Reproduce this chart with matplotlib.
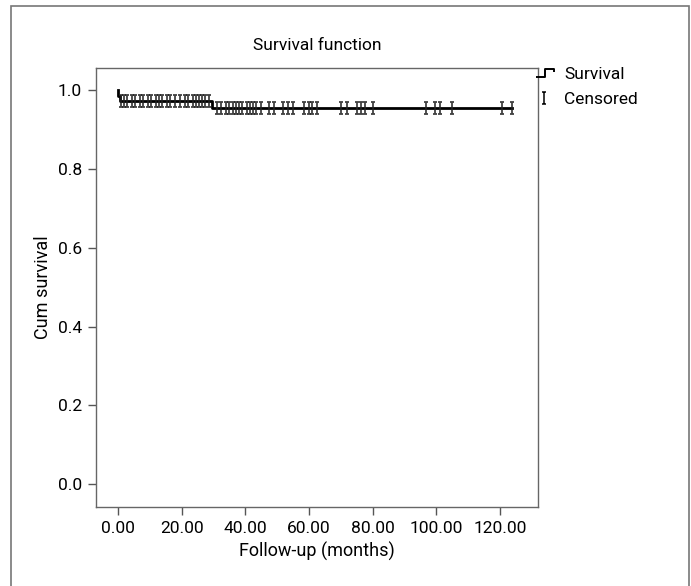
import matplotlib.pyplot as plt
from matplotlib.path import Path
from matplotlib.lines import Line2D
from matplotlib.patches import Rectangle

plt.rcParams['font.family'] = ['Roboto', 'DejaVu Sans']

# Kaplan-Meier steps (time, cumulative survival after the event)
event_times = [0.0, 0.1, 0.8, 29.5]
event_surv = [1.0, 0.986, 0.972, 0.955]
end_time = 123.8

# censored cases
censor_lvl1 = [1.0, 2.0, 3.0, 4.5, 5.5, 7.0, 8.0, 9.5, 10.5, 12.0, 13.0, 14.0,
               15.5, 16.5, 18.0, 19.5, 21.0, 22.0, 23.5, 24.5, 25.5, 26.5, 27.5, 28.5]
censor_lvl2 = [31, 32.5, 34, 35, 36, 37, 38, 39, 40.5, 41.5, 42.5, 43.5, 45, 47.5,
               49, 52, 53.5, 55, 58.5, 60, 61, 62.5, 70, 72, 75, 76.5, 77.5, 80,
               96.9, 99.5, 101.3, 104.9, 120.6, 123.8]

xticks = [0, 20, 40, 60, 80, 100, 120]
yticks = [0.0, 0.2, 0.4, 0.6, 0.8, 1.0]

# "I" shaped censor marker
cens_marker = Path([(-0.35, -1), (0.35, -1), (0, -1), (0, 1), (-0.35, 1), (0.35, 1)],
                   [Path.MOVETO, Path.LINETO, Path.MOVETO, Path.LINETO, Path.MOVETO, Path.LINETO])
# step symbol for legend
step_marker = Path([(-0.75, -0.35), (0.1, -0.35), (0.1, 0.35), (1.0, 0.35), (1.0, 0.05)],
                   [Path.MOVETO, Path.LINETO, Path.LINETO, Path.LINETO, Path.LINETO])

fig = plt.figure(figsize=(6.91, 5.86), dpi=100)
ax = fig.add_axes([0.1389, 0.1348, 0.6397, 0.7497])

xs = event_times + [end_time]
ys = event_surv + [event_surv[-1]]
ax.step(xs, ys, where='post', color='black', lw=2)

ax.plot(censor_lvl1, [event_surv[2]] * len(censor_lvl1), linestyle='None',
        marker=cens_marker, markersize=9, color='#222222', mew=1.3, alpha=0.85)
ax.plot(censor_lvl2, [event_surv[3]] * len(censor_lvl2), linestyle='None',
        marker=cens_marker, markersize=9, color='#222222', mew=1.3, alpha=0.85)

ax.set_xlim(-6.9, 132)
ax.set_ylim(-0.058, 1.057)
ax.set_xticks(xticks)
ax.set_xticklabels(['%.2f' % v for v in xticks])
ax.set_yticks(yticks)
ax.set_yticklabels(['%.1f' % v for v in yticks])
ax.tick_params(direction='out', length=6, width=1, color='#555555', labelsize=12.5, pad=4)
for s in ax.spines.values():
    s.set_color('#666666')
    s.set_linewidth(1)

ax.set_title('Survival function', fontsize=12.5, pad=13)
ax.set_xlabel('Follow-up (months)', fontsize=13, labelpad=4)
ax.set_ylabel('Cum survival', fontsize=13, labelpad=4)

handles = [Line2D([], [], linestyle='None', marker=step_marker, markersize=15, color='black',
                  mew=1.4, markerfacecolor='none', fillstyle='none'),
           Line2D([], [], linestyle='None', marker=cens_marker, markersize=9, color='black', mew=1.1)]
fig.legend(handles, ['Survival', 'Censored'], loc='upper left', bbox_to_anchor=(0.749, 0.913),
           frameon=False, fontsize=12.5, handlelength=1.3, handletextpad=0.5, labelspacing=0.6)

fig.add_artist(Rectangle((11 / 691, -0.01), 678 / 691, 1.0 - 6 / 586 + 0.01,
                         transform=fig.transFigure, fill=False, edgecolor='#777777', lw=1.2))

fig.savefig('out.png', dpi=100)
